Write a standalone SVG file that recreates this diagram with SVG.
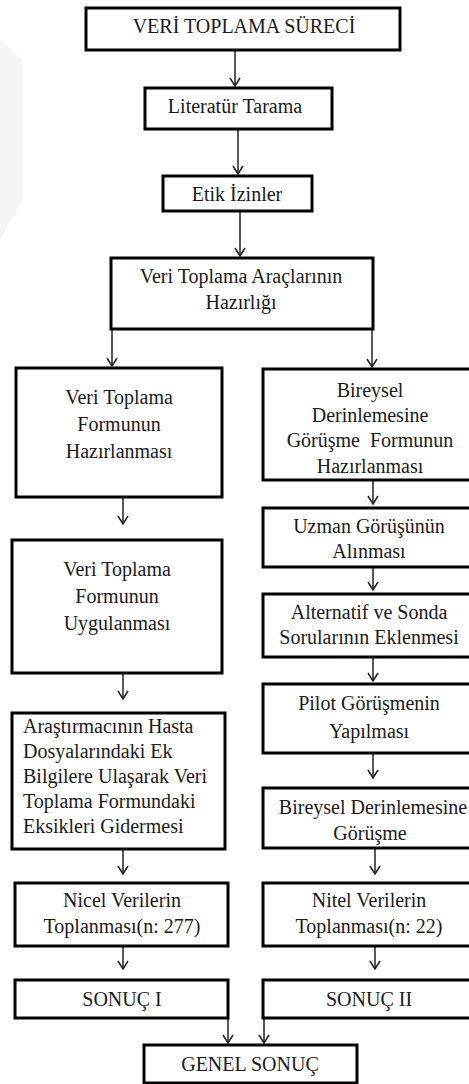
<svg xmlns="http://www.w3.org/2000/svg" width="469" height="1084" viewBox="0 0 469 1084">
<defs>
<style>
.b{fill:#fff;stroke:#000;stroke-width:3}
text{font-family:'Liberation Serif','DejaVu Serif','Times New Roman',serif;font-size:20px;fill:#1a1a1a;text-anchor:middle}
text.l{text-anchor:start}
.c{stroke:#222;stroke-width:1.5;fill:none;marker-end:url(#ah)}
</style>
<marker id="ah" viewBox="0 0 10 12" refX="9" refY="6" markerWidth="10" markerHeight="12" markerUnits="userSpaceOnUse" orient="auto">
<path d="M1,1 L9,6 L1,11" fill="none" stroke="#222" stroke-width="1.5"/>
</marker>
</defs>
<rect width="469" height="1084" fill="#fff"/>
<g id="watermark" fill="#f4f4f4">
<polygon points="0,40 22,60 22,200 0,240"/>
</g>
<g id="connectors">
<line class="c" x1="235" y1="50" x2="235" y2="86"/>
<line class="c" x1="238" y1="129" x2="238" y2="174"/>
<line class="c" x1="240" y1="211" x2="240" y2="256"/>
<line class="c" x1="112" y1="329" x2="112" y2="366"/>
<line class="c" x1="372" y1="329" x2="372" y2="367"/>
<line class="c" x1="123" y1="497" x2="123" y2="524"/>
<line class="c" x1="123" y1="673" x2="123" y2="699"/>
<line class="c" x1="123" y1="849" x2="123" y2="874"/>
<line class="c" x1="123" y1="946" x2="123" y2="969"/>
<line class="c" x1="228" y1="1018" x2="228" y2="1043"/>
<line class="c" x1="264" y1="1018" x2="264" y2="1043"/>
<line class="c" x1="373" y1="480" x2="373" y2="504"/>
<line class="c" x1="373" y1="567" x2="373" y2="590"/>
<line class="c" x1="373" y1="657" x2="373" y2="681"/>
<line class="c" x1="373" y1="753" x2="373" y2="778"/>
<line class="c" x1="375" y1="848" x2="375" y2="874"/>
<line class="c" x1="375" y1="946" x2="375" y2="969"/>
</g>
<g font-family="'Liberation Serif', 'DejaVu Serif', serif">
<g id="n1"><rect class="b" x="86" y="8" width="314" height="42"/><text x="244" y="33">VERİ TOPLAMA SÜRECİ</text></g>
<g id="n2"><rect class="b" x="145" y="88" width="187" height="41"/><text x="235" y="113">Literatür Tarama</text></g>
<g id="n3"><rect class="b" x="163" y="176" width="149" height="35"/><text x="237" y="201">Etik İzinler</text></g>
<g id="n4"><rect class="b" x="111" y="258" width="262" height="71"/><text x="241" y="283">Veri Toplama Araçlarının</text><text x="241" y="309">Hazırlığı</text></g>
<g id="n5"><rect class="b" x="16" y="368" width="206" height="129"/><text x="119" y="404">Veri Toplama</text><text x="119" y="431">Formunun</text><text x="119" y="458">Hazırlanması</text></g>
<g id="n6"><rect class="b" x="12" y="540" width="210" height="133"/><text x="117" y="576">Veri Toplama</text><text x="117" y="603">Formunun</text><text x="117" y="630">Uygulanması</text></g>
<g id="n7"><rect class="b" x="12" y="713" width="213" height="136"/><text class="l" x="23" y="733">Araştırmacının Hasta</text><text class="l" x="23" y="758">Dosyalarındaki Ek</text><text class="l" x="23" y="783">Bilgilere Ulaşarak Veri</text><text class="l" x="23" y="808">Toplama Formundaki</text><text class="l" x="23" y="833">Eksikleri Gidermesi</text></g>
<g id="n8"><rect class="b" x="15" y="883" width="213" height="63"/><text x="122" y="907">Nicel Verilerin</text><text x="122" y="933">Toplanması(n: 277)</text></g>
<g id="n9"><rect class="b" x="15" y="980" width="213" height="38"/><text x="122" y="1006">SONUÇ I</text></g>
<g id="n10"><rect class="b" x="263" y="369" width="212" height="111"/><text x="370" y="397">Bireysel</text><text x="370" y="422">Derinlemesine</text><text x="370" y="447" xml:space="preserve">Görüşme  Formunun</text><text x="370" y="473">Hazırlanması</text></g>
<g id="n11"><rect class="b" x="263" y="508" width="212" height="59"/><text x="369" y="533">Uzman Görüşünün</text><text x="369" y="558">Alınması</text></g>
<g id="n12"><rect class="b" x="263" y="594" width="212" height="63"/><text x="369" y="619">Alternatif ve Sonda</text><text x="369" y="644">Sorularının Eklenmesi</text></g>
<g id="n13"><rect class="b" x="263" y="684" width="212" height="69"/><text x="369" y="710">Pilot Görüşmenin</text><text x="369" y="738">Yapılması</text></g>
<g id="n14"><rect class="b" x="263" y="788" width="212" height="60"/><text x="373" y="814">Bireysel Derinlemesine</text><text x="370" y="840">Görüşme</text></g>
<g id="n15"><rect class="b" x="263" y="883" width="212" height="63"/><text x="369" y="907">Nitel Verilerin</text><text x="369" y="933">Toplanması(n: 22)</text></g>
<g id="n16"><rect class="b" x="263" y="980" width="212" height="38"/><text x="369" y="1006">SONUÇ II</text></g>
<g id="n17"><rect class="b" x="144" y="1045" width="213" height="38"/><text x="250" y="1071">GENEL SONUÇ</text></g>
</g>
</svg>
